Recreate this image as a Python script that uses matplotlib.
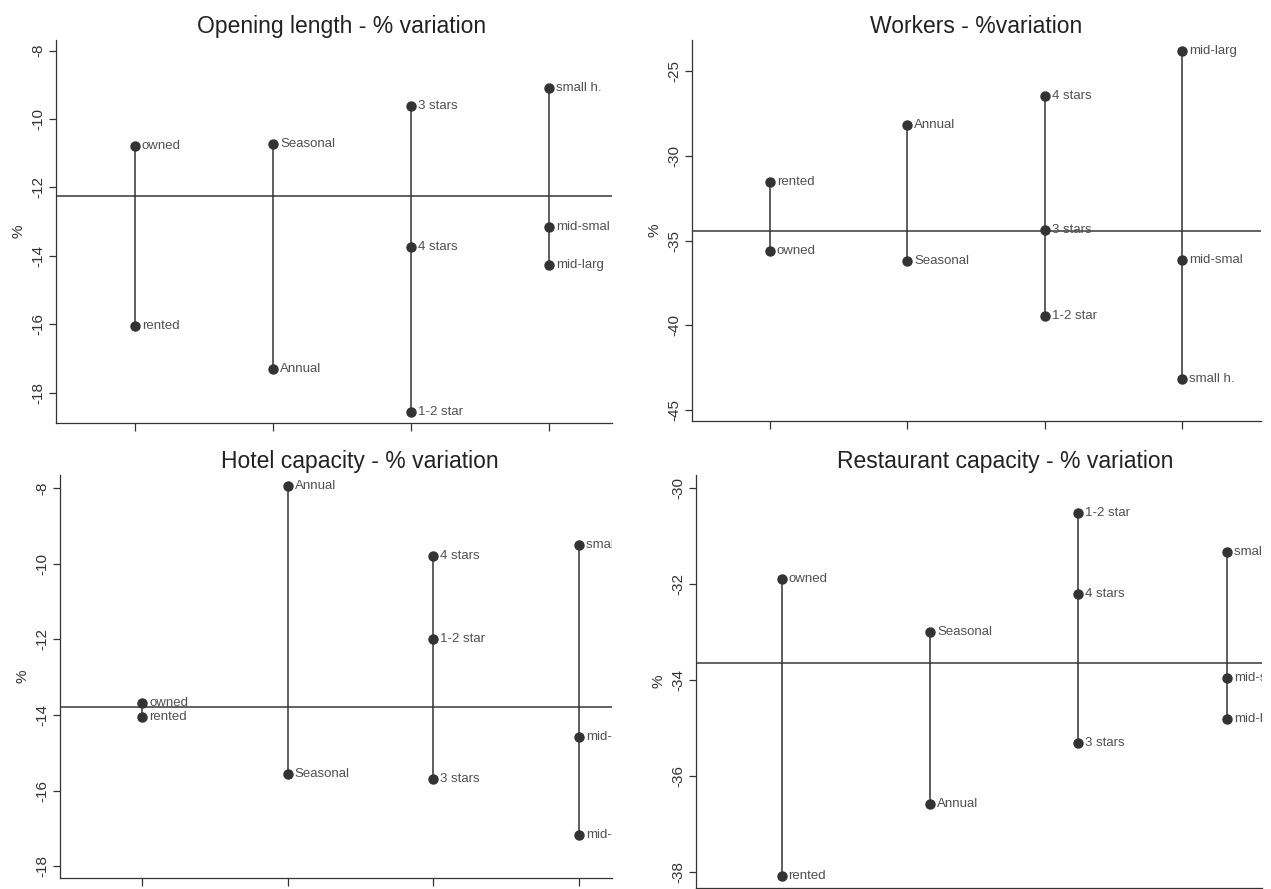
import numpy as np
import matplotlib
matplotlib.use('Agg')
import matplotlib.pyplot as plt

plt.rcParams['font.family'] = ['Liberation Sans', 'DejaVu Sans']

#-------------------------------------------------------------------------
# Data (group positions 1..4: ownership, season, stars, size)
open_title = 'Opening length - % variation'
open_labels = [['owned', 'rented'], ['Seasonal', 'Annual'],
               ['3 stars', '4 stars', '1-2 star'], ['small h.', 'mid-smal', 'mid-larg']]
open_vals = [[-10.78, -16.05], [-10.73, -17.32],
             [-9.61, -13.75, -18.57], [-9.10, -13.15, -14.28]]
open_mean = -12.24
open_ticks = [-18, -16, -14, -12, -10, -8]

work_title = 'Workers - %variation'
work_labels = [['rented', 'owned'], ['Annual', 'Seasonal'],
               ['4 stars', '3 stars', '1-2 star'], ['mid-larg', 'mid-smal', 'small h.']]
work_vals = [[-31.58, -35.63], [-28.22, -36.22],
             [-26.47, -34.39, -39.42], [-23.82, -36.12, -43.13]]
work_mean = -34.43
work_ticks = [-45, -40, -35, -30, -25]

hotel_title = 'Hotel capacity - % variation'
hotel_labels = [['owned', 'rented'], ['Annual', 'Seasonal'],
                ['4 stars', '1-2 star', '3 stars'], ['small h.', 'mid-smal', 'mid-larg']]
hotel_vals = [[-13.68, -14.06], [-7.94, -15.55],
              [-9.79, -11.99, -15.69], [-9.50, -14.59, -17.18]]
hotel_mean = -13.78
hotel_ticks = [-18, -16, -14, -12, -10, -8]

rest_title = 'Restaurant capacity - % variation'
rest_labels = [['owned', 'rented'], ['Seasonal', 'Annual'],
               ['1-2 star', '4 stars', '3 stars'], ['small h.', 'mid-smal', 'mid-larg']]
rest_vals = [[-31.90, -38.08], [-33.00, -36.59],
             [-30.54, -32.21, -35.31], [-31.34, -33.97, -34.82]]
rest_mean = -33.65
rest_ticks = [-38, -36, -34, -32, -30]

#-------------------------------------------------------------------------
W, H = 1271, 889
fig = plt.figure(figsize=(W / 100, H / 100), dpi=100)
fig.patch.set_facecolor('white')

# pixel boxes (left, top, right, bottom), xlim, ylim, title x (axes fraction)
panels = [
    (open_title, open_labels, open_vals, open_mean, open_ticks,
     (56, 40, 612, 423), (0.427, 4.457), (-18.89, -7.69), 0.514),
    (work_title, work_labels, work_vals, work_mean, work_ticks,
     (692, 40, 1261, 421), (0.433, 4.575), (-45.63, -23.19), 0.5),
    (hotel_title, hotel_labels, hotel_vals, hotel_mean, hotel_ticks,
     (60, 475, 612, 878), (0.434, 4.227), (-18.31, -7.65), 0.543),
    (rest_title, rest_labels, rest_vals, rest_mean, rest_ticks,
     (696, 475, 1262, 888), (0.424, 4.236), (-38.33, -29.74), 0.546),
]

dark = '#333333'
for title, labels, vals, mean, ticks, box, xl, yl, tx in panels:
    l, t, r, b = box
    ax = fig.add_axes([l / W, 1 - b / H, (r - l) / W, (b - t) / H])
    for i, (labs, vs) in enumerate(zip(labels, vals)):
        x = i + 1
        ax.plot([x, x], [min(vs), max(vs)], color=dark, lw=1.1, zorder=2)
        ax.plot([x] * len(vs), vs, 'o', color=dark, ms=6.5, zorder=3)
        for lab, v in zip(labs, vs):
            ax.annotate(lab, (x, v), xytext=(5, 0), textcoords='offset points',
                        va='center', ha='left', fontsize=9.5, color='#505050',
                        clip_on=True)
    ax.axhline(mean, color='#555555', lw=1.3, zorder=1)
    ax.set_xlim(*xl)
    ax.set_ylim(*yl)
    ax.set_xticks([1, 2, 3, 4])
    ax.set_xticklabels([])
    ax.set_yticks(ticks)
    ax.set_yticklabels([str(v) for v in ticks], rotation=90, va='center')
    ax.tick_params(axis='y', length=5, width=0.9, colors=dark, labelsize=11, pad=3)
    ax.tick_params(axis='x', length=6, width=0.9, colors=dark)
    for s in ['top', 'right']:
        ax.spines[s].set_visible(False)
    for s in ['left', 'bottom']:
        ax.spines[s].set_color(dark)
        ax.spines[s].set_linewidth(0.9)
    ax.set_ylabel('%', fontsize=11, color=dark, labelpad=4)
    ax.set_title(title, fontsize=16.5, color='#222222', pad=5, x=tx)

fig.savefig('out.png', dpi=100)
